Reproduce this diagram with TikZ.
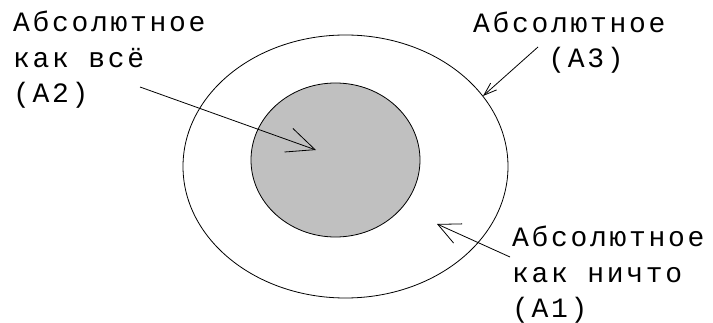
\documentclass[tikz,border=0pt]{standalone}
\usepackage{fontspec}
\setmainfont{Liberation Mono}[LetterSpace=9.6]
\usetikzlibrary{shapes.geometric,arrows.meta}
\begin{document}
\begin{tikzpicture}[x=1pt,y=-1pt,
  lbl/.style={anchor=base west,inner sep=0pt,align=left,font=\fontsize{28}{35.5}\selectfont},
  ring/.style={draw=black,line width=0.8pt,ellipse,inner sep=0pt},
  ptr/.style={draw=black,line width=0.8pt}]
\useasboundingbox[fill=white] (0,0) rectangle (713,323);
\node[ring,minimum width=325,minimum height=263] (outer) at (345.5,166.5) {};
\node[ring,fill={rgb,255:red,192;green,192;blue,192},minimum width=169,minimum height=154] (inner) at (335.5,160) {};
% base anchor of a multi-line node is the baseline of its last line
\node[lbl] (a2) at (13,103) {Абсолютное\\как всё\\(А2)};
\node[lbl] (a3) at (473,68) {Абсолютное\\\hphantom{Абсо}(А3)};
\node[lbl] (a1) at (512,318) {Абсолютное\\как ничто\\(А1)};
\coordinate (a2s) at (140,87);
\coordinate (a2t) at (316,150);
\coordinate (a3s) at (538,47);
\coordinate (a3t) at (483,96);
\coordinate (a1s) at (510,257);
\coordinate (a1t) at (437,224);
\draw[ptr,-{Straight Barb[length=28pt,width=25pt,line width=0.8pt]}] (a2s) -- (a2t);
\draw[ptr,-{Straight Barb[length=13pt,width=9pt,line width=0.8pt]}] (a3s) -- (a3t);
\draw[ptr,-{Straight Barb[length=22pt,width=21pt,line width=0.8pt]}] (a1s) -- (a1t);
\end{tikzpicture}
\end{document}
